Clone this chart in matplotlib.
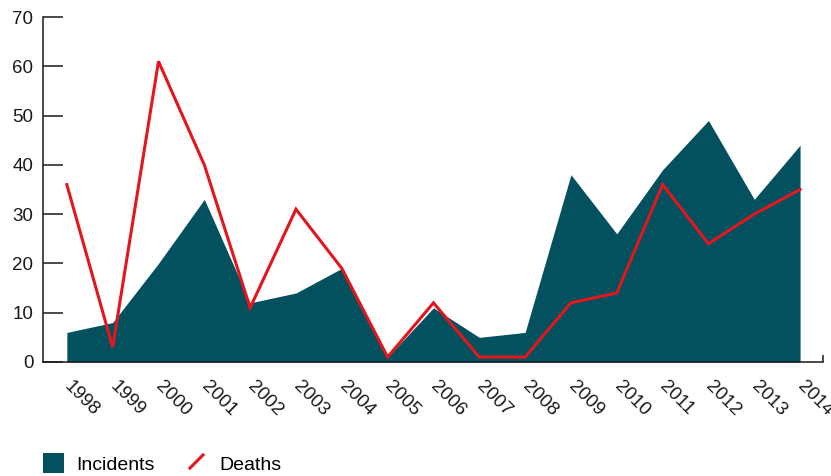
import numpy as np
import matplotlib
matplotlib.use('Agg')
import matplotlib.pyplot as plt
from matplotlib.patches import Patch
from matplotlib.lines import Line2D

plt.rcParams['font.family'] = ['Liberation Sans', 'DejaVu Sans']

# data
years = [1998, 1999, 2000, 2001, 2002, 2003, 2004, 2005, 2006,
         2007, 2008, 2009, 2010, 2011, 2012, 2013, 2014]
incidents = [6, 8, 20, 33, 12, 14, 19, 1, 11, 5, 6, 38, 26, 39, 49, 33, 44]
deaths = [36, 3, 61, 40, 11, 31, 19, 1, 12, 1, 1, 12, 14, 36, 24, 30, 35]
y_ticks = [0, 10, 20, 30, 40, 50, 60, 70]

teal = '#03505f'
red = '#e3161d'
ink = '#1a1a1a'

fig = plt.figure(figsize=(8.31, 4.76), dpi=100)
ax = fig.add_axes([43/831, 114/476, (823-43)/831, (362-17)/476])

ax.fill_between(years, incidents, 0, color=teal, linewidth=0)
ax.plot(years, deaths, color=red, linewidth=2.2, solid_joinstyle='miter')

ax.set_xlim(years[0] - 0.52, years[-1] + 0.5)
ax.set_ylim(0, 70)
ax.set_yticks(y_ticks)
ax.set_xticks(years)
ax.set_xticklabels([str(y) for y in years], rotation=-45, ha='left', va='center',
                   rotation_mode='anchor', fontsize=13.5, color=ink)
ax.set_xticks([years[-1] + 0.5], minor=True)

for s in ['top', 'right']:
    ax.spines[s].set_visible(False)
for s in ['left', 'bottom']:
    ax.spines[s].set_color(ink)
    ax.spines[s].set_linewidth(1.1)

ax.tick_params(axis='y', direction='in', length=14.4, width=1.1, color=ink,
               pad=7, labelsize=13.5, labelcolor=ink)
ax.tick_params(axis='x', which='major', length=0, pad=16)
ax.tick_params(axis='x', which='minor', direction='in', length=5, width=1.1, color=ink)

handles = [Patch(facecolor=teal, edgecolor='none'),
           Line2D([], [], linestyle='none', marker=[(-1, -1), (1, 1)], markersize=11,
                  markerfacecolor='none', markeredgecolor=red, markeredgewidth=2.2)]
fig.legend(handles, ['Incidents', 'Deaths'], loc='upper left',
           bbox_to_anchor=(43/831, 1 - 453/476), ncol=2, frameon=False,
           fontsize=14, handlelength=1.08, handleheight=1.24, handletextpad=0.62,
           columnspacing=1.62, borderpad=0, borderaxespad=0)

fig.savefig('out.png', dpi=100)
